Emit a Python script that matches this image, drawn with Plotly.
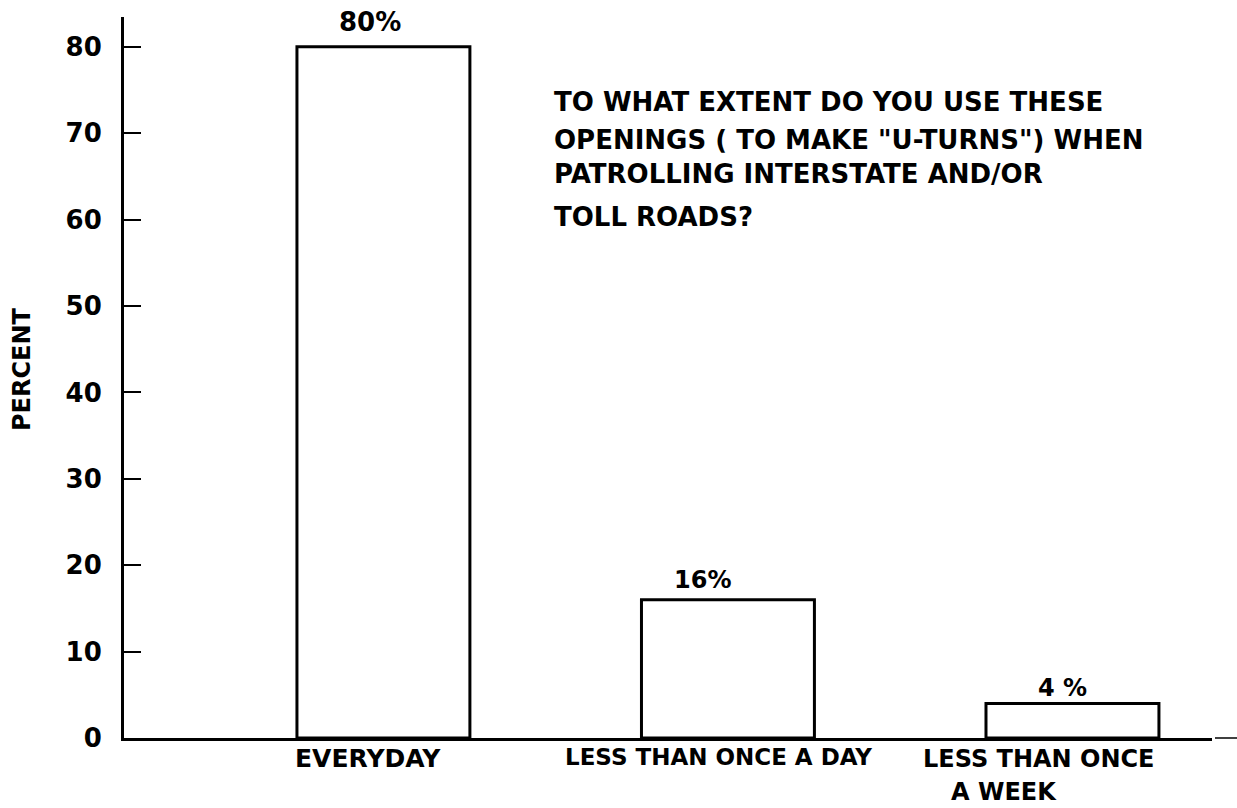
import plotly.graph_objects as go

categories = ["EVERYDAY", "LESS THAN ONCE A DAY", "LESS THAN ONCE<br>A WEEK"]
values = [80, 16, 4]
value_labels = ["80%", "16%", "4 %"]
y_ticks = [0, 10, 20, 30, 40, 50, 60, 70, 80]
question_lines = ["TO WHAT EXTENT DO YOU USE THESE",
                  "OPENINGS ( TO MAKE \"U-TURNS\") WHEN",
                  "PATROLLING INTERSTATE AND/OR",
                  "TOLL ROADS?"]
y_title = "PERCENT"

FONT = "DejaVu Sans"
BLACK = "black"
xpos = list(range(len(categories)))

# layout tweaks (pixel offsets) for hand-lettered labels
value_xshift = [-13, -25, -10]
value_yshift = [8, 4, -1]
cat_line_shift = [[(-15, -20)], [(-9, -19)], [(-33, -21), (-68, -54)]]
cat_size = [25, 23, 24]
q_pix_y = [102, 140, 174, 217]

plot_left, plot_right = 124, 1212
plot_top, plot_bottom = 17, 738

fig = go.Figure()
fig.add_trace(go.Bar(
    x=xpos, y=values, width=0.502,
    marker=dict(color="white", line=dict(color=BLACK, width=3)),
    hoverinfo="skip",
))

for i, v in enumerate(values):
    fig.add_annotation(x=xpos[i], y=v, xref="x", yref="y", text=value_labels[i],
                       showarrow=False, yanchor="bottom", xanchor="center",
                       xshift=value_xshift[i], yshift=value_yshift[i],
                       font=dict(family=FONT, size=26 if i == 0 else 24, color=BLACK, weight="bold"))

for i, c in enumerate(categories):
    for line, (dx, dy) in zip(c.split("<br>"), cat_line_shift[i]):
        fig.add_annotation(x=xpos[i], y=0, xref="x", yref="y", text=line, showarrow=False,
                           yanchor="middle", xanchor="center", xshift=dx, yshift=dy,
                           font=dict(family=FONT, size=cat_size[i], color=BLACK, weight="bold"))

for line, py in zip(question_lines, q_pix_y):
    fig.add_annotation(x=(552 - plot_left) / (plot_right - plot_left),
                       y=(plot_bottom - py) / (plot_bottom - plot_top),
                       xref="paper", yref="paper", text=line, showarrow=False,
                       xanchor="left", yanchor="middle", align="left",
                       font=dict(family=FONT, size=26, color=BLACK, weight="bold"))

# rotated y-axis title
fig.add_annotation(x=(22 - plot_left) / (plot_right - plot_left),
                   y=(plot_bottom - 369) / (plot_bottom - plot_top),
                   xref="paper", yref="paper", text=y_title, showarrow=False,
                   textangle=-90, xanchor="center", yanchor="middle",
                   font=dict(family=FONT, size=24, color=BLACK, weight="bold"))

# stray stub of the baseline at the far right
fig.add_shape(type="line", xref="paper", yref="paper",
              x0=(1215 - plot_left) / (plot_right - plot_left),
              x1=(1237 - plot_left) / (plot_right - plot_left), y0=0, y1=0,
              line=dict(color=BLACK, width=1.5))

fig.update_layout(
    width=1237, height=808,
    margin=dict(l=plot_left, r=1237 - plot_right, t=plot_top, b=808 - plot_bottom),
    plot_bgcolor="white", paper_bgcolor="white",
    showlegend=False,
    xaxis=dict(range=[-0.753, 2.405], showticklabels=False, ticks="",
               showgrid=False, zeroline=False, showline=True,
               linecolor=BLACK, linewidth=3),
    yaxis=dict(range=[0, 83.45], tickvals=y_ticks, ticks="inside", ticklen=17,
               tickwidth=2, tickcolor=BLACK, showgrid=False, zeroline=False,
               showline=True, linecolor=BLACK, linewidth=3,
               ticklabelstandoff=14,
               tickfont=dict(family=FONT, size=26, color=BLACK, weight="bold")),
)

fig.write_html("out.html", config={"displayModeBar": False},
               post_script="document.body.style.margin='0px';")
